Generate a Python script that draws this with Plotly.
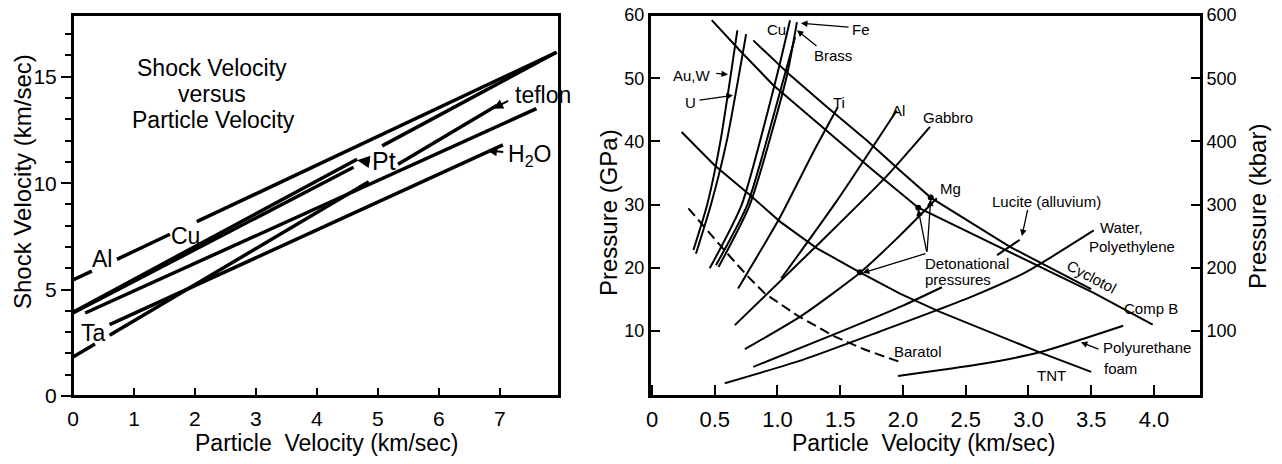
import plotly.graph_objects as go

# Page is 1282x464; the browser keeps its default 8px body margin, so the figure is 16px smaller
OFF = 8
W, H = 1266, 448
def fx(px): return (px - OFF) / W
def fy(py): return 1 - (py - OFF) / H

# ---------------- Left panel data: shock velocity vs particle velocity ----------------
al_u = [0.0, 0.31, None, 0.72, 1.59, None, 2.03, 7.93]
al_us = [5.45, 5.87, None, 6.42, 7.60, None, 8.19, 16.15]
cu_u = [0.0, 4.66, None, 5.07, 7.93]
cu_us = [3.94, 11.12, None, 11.75, 16.15]
pt_u = [0.0, 4.6]
pt_us = [3.90, 10.75]
ta_u = [0.2, 7.6]
ta_us = [3.90, 13.50]
teflon_u = [0.0, 0.36, None, 0.6, 4.85, None, 5.33, 6.95]
teflon_us = [1.83, 2.44, None, 2.85, 10.07, None, 10.89, 13.65]
h2o_u = [0.6, 7.05]
h2o_us = [3.35, 11.80]

left_xticks = [0, 1, 2, 3, 4, 5, 6, 7]
left_yticks = [0, 5, 10, 15]

# ---------------- Right panel data: pressure vs particle velocity ----------------
auw_u = [0.33, 0.44, 0.545, 0.68]
auw_p = [22.8, 30.0, 40.0, 57.6]
ur_u = [0.35, 0.47, 0.595, 0.75]
ur_p = [22.2, 30.0, 40.0, 57.0]
cu2_u = [0.46, 0.715, 0.99, 1.10]
cu2_p = [19.9, 30.0, 50.0, 59.2]
fe_u = [0.53, 0.78, 1.07, 1.155]
fe_p = [20.1, 30.0, 50.0, 58.9]
brass_u = [0.51, 0.76, 1.05, 1.14]
brass_p = [20.4, 30.0, 50.0, 56.5]
ti_u = [0.686, 1.02, 1.28, 1.48]
ti_p = [16.7, 28.0, 38.1, 45.4]
al2_u = [1.03, 1.47, 1.95]
al2_p = [18.3, 30.5, 44.9]
gabbro_u = [0.66, 1.339, 1.87, 2.215]
gabbro_p = [10.9, 24.0, 34.5, 42.3]
mg_u = [0.74, 1.2, 1.657, 1.95, 2.27]
mg_p = [7.1, 12.5, 19.2, 24.6, 31.0]
lucite_u = [0.807, 1.47, 2.0, 2.31, None, 2.75, 2.93]
lucite_p = [4.3, 9.6, 14.0, 16.9, None, 22.0, 24.4]
water_u = [0.58, 1.2, 1.817, 2.534, 2.98, 3.52]
water_p = [1.7, 5.4, 9.9, 15.3, 19.3, 25.9]
foam_u = [1.96, 2.61, 3.09, 3.755]
foam_p = [2.85, 4.7, 6.6, 10.8]

cyclotol_u = [0.807, 1.10, 1.392, 1.71, 1.976, 2.221, 2.853, 3.50]
cyclotol_p = [56.0, 50.5, 45.5, 40.2, 35.4, 31.1, 23.3, 16.6]
compb_u = [0.476, 0.70, 0.967, 1.233, 1.50, 1.763, 2.122, 2.6, 3.04, 3.52, 3.99]
compb_p = [59.2, 54.4, 48.9, 44.4, 39.9, 35.4, 29.5, 24.9, 20.6, 16.0, 11.0]
tnt_u = [0.236, 0.50, 0.78, 1.02, 1.312, 1.657, 1.976, 2.295, 3.09, 3.5]
tnt_p = [41.5, 36.2, 31.5, 27.3, 23.1, 19.26, 15.9, 13.0, 6.6, 3.5]
baratol_u = [0.29, 0.54, 0.755, 0.90, 1.153, 1.445, 1.70, 2.0]
baratol_p = [29.4, 23.6, 18.8, 15.9, 12.5, 9.2, 7.0, 4.9]

det_u = [1.657, 2.122, 2.221]
det_p = [19.26, 29.5, 31.1]

right_xticks = [0, 0.5, 1.0, 1.5, 2.0, 2.5, 3.0, 3.5, 4.0]
right_xtext = ["0", "0.5", "1.0", "1.5", "2.0", "2.5", "3.0", "3.5", "4.0"]
gpa_ticks = [10, 20, 30, 40, 50, 60]
kbar_ticks = [100, 200, 300, 400, 500, 600]

FONT = "Liberation Sans, Arial, sans-serif"
fig = go.Figure()

def add_line(x, y, xa, ya, width, dash="solid", shape="linear"):
    fig.add_trace(go.Scatter(x=x, y=y, xaxis=xa, yaxis=ya, mode="lines",
                             line=dict(color="black", width=width, dash=dash, shape=shape,
                                       smoothing=0.6 if shape == "spline" else None),
                             showlegend=False, hoverinfo="skip", connectgaps=False))

for xs, ys in [(al_u, al_us), (cu_u, cu_us), (pt_u, pt_us), (ta_u, ta_us),
               (teflon_u, teflon_us), (h2o_u, h2o_us)]:
    add_line(xs, ys, "x", "y", 3.5)

for xs, ys in [(auw_u, auw_p), (ur_u, ur_p), (cu2_u, cu2_p), (fe_u, fe_p), (brass_u, brass_p),
               (ti_u, ti_p), (al2_u, al2_p), (gabbro_u, gabbro_p), (mg_u, mg_p),
               (lucite_u, lucite_p), (water_u, water_p), (foam_u, foam_p)]:
    add_line(xs, ys, "x2", "y2", 2.0, shape="spline")

for xs, ys in [(cyclotol_u, cyclotol_p), (compb_u, compb_p), (tnt_u, tnt_p)]:
    add_line(xs, ys, "x2", "y2", 2.0)
add_line(baratol_u, baratol_p, "x2", "y2", 2.0, dash="10px,5px")

fig.add_trace(go.Scatter(x=det_u, y=det_p, xaxis="x2", yaxis="y2", mode="markers",
                         marker=dict(color="black", size=6), showlegend=False, hoverinfo="skip"))
# kbar axis companion (pressure in kbar = 10 x GPa), invisible, so the right axis is drawn
fig.add_trace(go.Scatter(x=det_u, y=[p * 10 for p in det_p], xaxis="x2", yaxis="y3", mode="markers",
                         marker=dict(color="rgba(0,0,0,0)", size=1), showlegend=False, hoverinfo="skip"))

ann = []
def txt(x, y, s, size, xref="x", yref="y", angle=0, xanchor="center"):
    ann.append(dict(x=x, y=y, xref=xref, yref=yref, text=s, showarrow=False, textangle=angle,
                    xanchor=xanchor, yanchor="middle", font=dict(family=FONT, size=size, color="black")))

def arrow(x, y, ax, ay, xr, yr, w=1.5, head=2, size=1.0):
    ann.append(dict(x=x, y=y, ax=ax, ay=ay, xref=xr, yref=yr, axref=xr, ayref=yr, text="",
                    showarrow=True, arrowhead=head, arrowsize=size, arrowwidth=w, arrowcolor="black"))

# Left panel texts
txt(fx(212), fy(68), "Shock Velocity", 23, "paper", "paper")
txt(fx(212), fy(94), "versus", 23, "paper", "paper")
txt(fx(213), fy(120), "Particle Velocity", 23, "paper", "paper")
txt(0.48, 6.43, "Al", 23)
txt(1.84, 7.5, "Cu", 23)
txt(0.34, 2.98, "Ta", 23)
txt(5.1, 11.03, "Pt", 25)
txt(7.7, 14.13, "teflon", 23)
txt(7.48, 11.3, "H<sub>2</sub>O", 23)
arrow(6.89, 13.5, 7.16, 13.9, "x", "y", w=2)
arrow(6.79, 11.55, 7.08, 11.45, "x", "y", w=2)
arrow(4.66, 11.08, 4.89, 10.99, "x", "y", w=2.5)

# Axis titles
txt(fx(22), fy(182), "Shock Velocity (km/sec)", 24, "paper", "paper", angle=-90)
txt(fx(326), fy(443), "Particle\u00a0 Velocity (km/sec)", 23, "paper", "paper")
txt(fx(608), fy(213), "Pressure (GPa)", 24, "paper", "paper", angle=-90)
txt(fx(1257), fy(207), "Pressure (kbar)", 24, "paper", "paper", angle=-90)
txt(fx(923), fy(443), "Particle\u00a0 Velocity (km/sec)", 23, "paper", "paper")

# Right panel texts
R = 15
txt(0.996, 57.75, "Cu", R, "x2", "y2")
txt(1.665, 57.75, "Fe", R, "x2", "y2")
txt(1.44, 53.6, "Brass", R, "x2", "y2")
txt(0.319, 50.5, "Au,W", R, "x2", "y2")
txt(0.303, 46.2, "U", R, "x2", "y2")
txt(1.49, 46.2, "Ti", R, "x2", "y2")
txt(1.968, 44.9, "Al", R, "x2", "y2")
txt(2.36, 43.8, "Gabbro", R, "x2", "y2")
txt(2.375, 32.6, "Mg", R, "x2", "y2")
txt(3.147, 30.5, "Lucite (alluvium)", R, "x2", "y2")
txt(3.745, 26.3, "Water,", R, "x2", "y2")
txt(3.825, 23.4, "Polyethylene", R, "x2", "y2")
txt(2.51, 20.6, "Detonational", R, "x2", "y2")
txt(2.44, 18.1, "pressures", R, "x2", "y2")
txt(3.50, 18.6, "Cyclotol", R, "x2", "y2", angle=28)
txt(3.98, 13.6, "Comp B", R, "x2", "y2")
txt(2.12, 6.65, "Baratol", R, "x2", "y2")
txt(3.944, 7.4, "Polyurethane", R, "x2", "y2")
txt(3.737, 4.1, "foam", R, "x2", "y2")
txt(3.187, 3.0, "TNT", R, "x2", "y2")

arrow(1.187, 58.7, 1.578, 58.07, "x2", "y2", w=1.3)
arrow(1.155, 57.6, 1.323, 54.9, "x2", "y2", w=1.3)
arrow(0.606, 50.6, 0.50, 50.8, "x2", "y2", w=1.3)
arrow(0.645, 47.3, 0.367, 46.5, "x2", "y2", w=1.3)
arrow(2.948, 25.0, 2.996, 29.4, "x2", "y2", w=1.3)
arrow(3.418, 8.2, 3.57, 7.0, "x2", "y2", w=1.3)
arrow(1.68, 19.2, 2.191, 22.3, "x2", "y2", w=1.3)
arrow(2.122, 29.2, 2.191, 22.3, "x2", "y2", w=1.3)
arrow(2.221, 30.8, 2.191, 22.3, "x2", "y2", w=1.3)

axis_common = dict(showgrid=False, zeroline=False, showline=True, linecolor="black",
                   linewidth=2, tickcolor="black", fixedrange=True, automargin=False,
                   ticklabeloverflow="allow")

frames = [dict(type="rect", xref="x domain", yref="y domain", x0=0, x1=1, y0=0, y1=1,
               line=dict(color="black", width=2), layer="above"),
          dict(type="rect", xref="x2 domain", yref="y2 domain", x0=0, x1=1, y0=0, y1=1,
               line=dict(color="black", width=2), layer="above")]

fig.update_layout(
    width=W, height=H, margin=dict(l=0, r=0, t=0, b=0, pad=0, autoexpand=False),
    paper_bgcolor="white", plot_bgcolor="white", showlegend=False,
    annotations=ann, shapes=frames,
    xaxis=dict(domain=[fx(73), fx(559)], range=[0, 7.97], anchor="y", mirror=True,
               tickmode="array", tickvals=left_xticks, ticks="inside", ticklen=8, tickwidth=2,
               ticklabelstandoff=3,
               tickfont=dict(family=FONT, size=21, color="black"), **axis_common),
    yaxis=dict(domain=[fy(396), fy(15)], range=[0, 17.9], anchor="x", mirror=True,
               tickmode="array", tickvals=left_yticks, ticks="outside", ticklen=10, tickwidth=2,
               minor=dict(dtick=1, tick0=0, ticks="outside", ticklen=6, tickwidth=1.5,
                          tickcolor="black", showgrid=False),
               tickfont=dict(family=FONT, size=21, color="black"), **axis_common),
    xaxis2=dict(domain=[fx(650), fx(1201)], range=[-0.016, 4.375], anchor="y2", mirror=True,
                tickmode="array", tickvals=right_xticks, ticktext=right_xtext,
                ticks="inside", ticklen=11, tickwidth=1.5, ticklabelstandoff=3,
                tickfont=dict(family=FONT, size=22, color="black"), **axis_common),
    yaxis2=dict(domain=[fy(396), fy(15)], range=[-0.32, 60.02], anchor="x2", mirror=True,
                tickmode="array", tickvals=gpa_ticks, ticks="inside", ticklen=10, tickwidth=1.5,
                tickfont=dict(family=FONT, size=18, color="black"), **axis_common),
    yaxis3=dict(overlaying="y2", side="right", anchor="x2", range=[-3.2, 600.2],
                tickmode="array", tickvals=kbar_ticks, ticks="inside", ticklen=10, tickwidth=1.5,
                tickfont=dict(family=FONT, size=18, color="black"), **axis_common),
)

fig.write_html("out.html", config={"displayModeBar": False})
